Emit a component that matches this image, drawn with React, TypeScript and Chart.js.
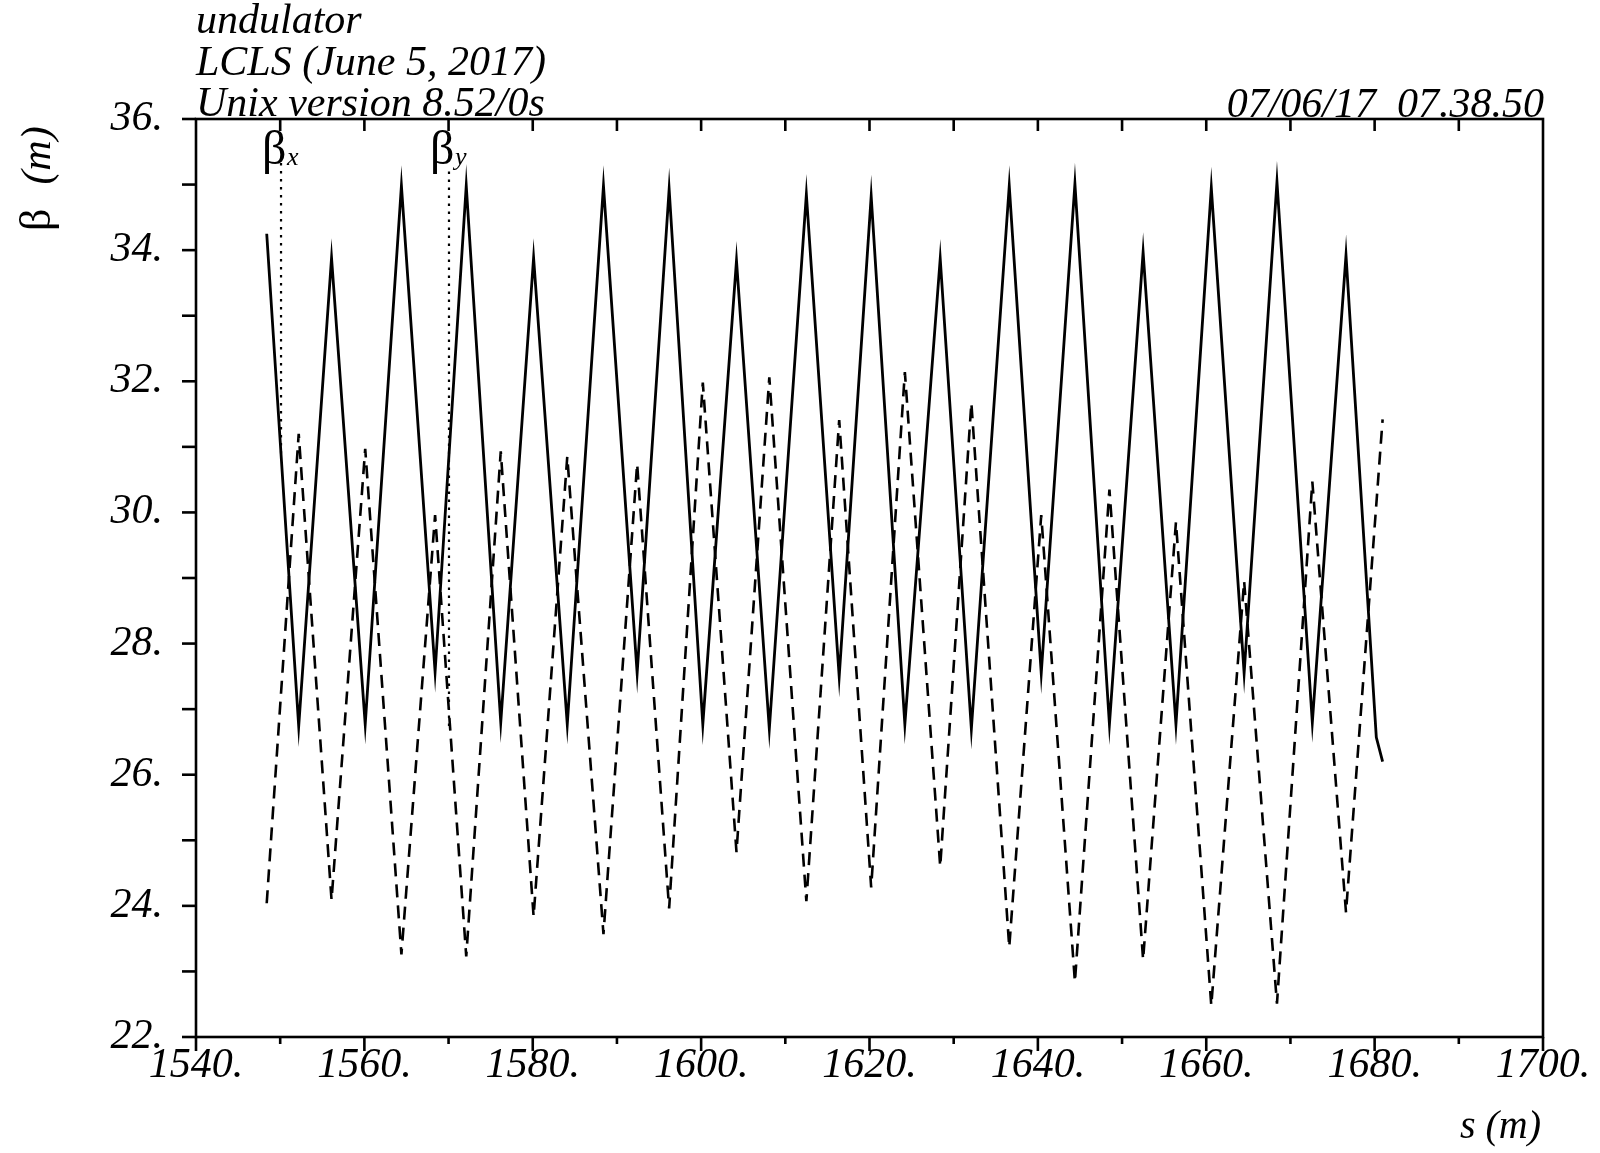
import React, { useEffect, useRef } from 'react';
import { Chart, registerables } from 'chart.js';

Chart.register(...registerables);

// ---- data ----
const sBetaX = [
  1548.4, 1552.2, 1556.1, 1560.1, 1564.4, 1568.4, 1572.1, 1576.2, 1580.1, 1584.1,
  1588.4, 1592.4, 1596.2, 1600.2, 1604.2, 1608.1, 1612.5, 1616.4, 1620.2, 1624.2,
  1628.4, 1632.1, 1636.6, 1640.4, 1644.4, 1648.5, 1652.5, 1656.4, 1660.6, 1664.5,
  1668.4, 1672.6, 1676.6, 1680.2, 1680.95,
];
const betaX = [
  34.25, 26.74, 33.88, 26.77, 34.98, 27.57, 34.98, 26.8, 33.88, 26.77,
  34.98, 27.55, 34.93, 26.77, 33.84, 26.7, 34.85, 27.5, 34.82, 26.77,
  33.87, 26.7, 34.98, 27.55, 35.01, 26.77, 33.97, 26.77, 34.95, 27.55,
  35.04, 26.8, 33.92, 26.57, 26.2,
];
const sBetaY = [
  1548.4, 1552.2, 1556.1, 1560.1, 1564.4, 1568.4, 1572.1, 1576.2, 1580.1, 1584.1,
  1588.4, 1592.4, 1596.2, 1600.2, 1604.2, 1608.1, 1612.5, 1616.4, 1620.2, 1624.2,
  1628.4, 1632.1, 1636.6, 1640.4, 1644.4, 1648.5, 1652.5, 1656.4, 1660.6, 1664.5,
  1668.4, 1672.6, 1676.6, 1680.95,
];
const betaY = [
  24.04, 31.2, 24.09, 30.97, 23.26, 29.96, 23.23, 30.93, 23.84, 30.85,
  23.57, 30.74, 23.96, 31.98, 24.82, 32.06, 24.07, 31.41, 24.28, 32.14,
  24.6, 31.67, 23.37, 29.96, 22.84, 30.35, 23.18, 29.85, 22.48, 28.95,
  22.51, 30.47, 23.9, 31.42,
];

// legend markers (label position s, dotted line from top value to curve value)
const markerSub = ['x', 'y'];
const markerS = [1550.1, 1570.05];
const markerTop = [35.33, 35.2];
const markerBottom = [30.85, 26.7];

const titleLines = ['undulator', 'LCLS (June 5, 2017)', 'Unix version 8.52/0s'];
const dateStamp = '07/06/17  07.38.50';
const xTitle = 's (m)';
const yTitleSymbol = 'β';
const yTitleUnit = '(m)';

const X_MIN = 1540;
const X_MAX = 1700;
const X_MAJOR = 20;
const X_MINOR = 10;
const Y_MIN = 22;
const Y_MAX = 36;
const Y_MAJOR = 2;
const Y_MINOR = 1;

const SERIF = '"Liberation Serif", "Times New Roman", serif';

const madDecor = {
  id: 'madDecor',
  beforeDatasetsDraw(chart: any) {
    chart.ctx.miterLimit = 40;
  },
  afterDraw(chart: any) {
    const { ctx, chartArea: a, scales } = chart;
    const x = scales.x;
    const y = scales.y;
    ctx.save();
    ctx.setLineDash([]);
    ctx.strokeStyle = '#000';
    ctx.fillStyle = '#000';
    ctx.lineWidth = 2.6;
    ctx.lineCap = 'butt';
    ctx.strokeRect(a.left, a.top, a.right - a.left, a.bottom - a.top);

    const seg = (x1: number, y1: number, x2: number, y2: number) => {
      ctx.beginPath();
      ctx.moveTo(x1, y1);
      ctx.lineTo(x2, y2);
      ctx.stroke();
    };
    const nx = Math.round((X_MAX - X_MIN) / X_MINOR);
    for (let i = 0; i <= nx; i++) {
      const v = X_MIN + i * X_MINOR;
      const px = x.getPixelForValue(v);
      const major = Math.round(v - X_MIN) % X_MAJOR === 0;
      seg(px, a.bottom, px, a.bottom + (major ? 14 : 7));
      if (i > 0 && i < nx) seg(px, a.top, px, a.top + 12);
    }
    const ny = Math.round((Y_MAX - Y_MIN) / Y_MINOR);
    for (let i = 0; i <= ny; i++) {
      const v = Y_MIN + i * Y_MINOR;
      const py = y.getPixelForValue(v);
      seg(a.left - 14, py, a.left, py);
    }

    // titles
    ctx.font = `italic 42px ${SERIF}`;
    ctx.textBaseline = 'alphabetic';
    ctx.textAlign = 'left';
    const baselines = [33, 75, 116];
    titleLines.forEach((t, i) => ctx.fillText(t, a.left, baselines[i]));
    ctx.textAlign = 'right';
    ctx.fillText(dateStamp, a.right + 1, 117);

    // x title
    ctx.font = `italic 40px ${SERIF}`;
    ctx.textAlign = 'right';
    ctx.fillText(xTitle, a.right - 2, 1138);

    // y title (rotated)
    ctx.save();
    ctx.translate(50, 231);
    ctx.rotate(-Math.PI / 2);
    ctx.textAlign = 'left';
    ctx.font = `44px ${SERIF}`;
    ctx.fillText(yTitleSymbol, 0, 0);
    const bw = ctx.measureText(yTitleSymbol).width;
    ctx.font = `italic 42px ${SERIF}`;
    ctx.fillText(yTitleUnit, bw + 24, 0);
    ctx.restore();

    // legend labels
    markerS.forEach((s, i) => {
      const px = x.getPixelForValue(s);
      ctx.textAlign = 'left';
      ctx.font = `48px ${SERIF}`;
      ctx.fillText('β', px - 19, 164);
      ctx.font = `italic 26px ${SERIF}`;
      ctx.fillText(markerSub[i], px + 6, 165);
    });
    ctx.restore();
  },
};

export default function App() {
  const ref = useRef<HTMLCanvasElement | null>(null);
  useEffect(() => {
    if (!ref.current) return;
    const tickFont = { family: SERIF, size: 42, style: 'italic' as const };
    const datasets: any[] = [
      {
        label: 'betx',
        data: sBetaX.map((s, i) => ({ x: s, y: betaX[i] })),
        borderColor: '#000',
        borderWidth: 2.8,
        borderJoinStyle: 'miter',
        pointRadius: 0,
        tension: 0,
        fill: false,
      },
      {
        label: 'bety',
        data: sBetaY.map((s, i) => ({ x: s, y: betaY[i] })),
        borderColor: '#000',
        borderWidth: 2.6,
        borderJoinStyle: 'bevel',
        borderDash: [13, 8],
        pointRadius: 0,
        tension: 0,
        fill: false,
      },
    ];
    markerS.forEach((s, i) => {
      datasets.push({
        label: 'marker' + i,
        data: [
          { x: s, y: markerTop[i] },
          { x: s, y: markerBottom[i] },
        ],
        borderColor: '#000',
        borderWidth: 2.2,
        borderDash: [2.5, 5.5],
        pointRadius: 0,
        fill: false,
      });
    });
    const chart = new Chart(ref.current, {
      type: 'line',
      data: { datasets },
      plugins: [madDecor],
      options: {
        responsive: false,
        animation: false,
        devicePixelRatio: 1,
        events: [],
        layout: { padding: { top: 119, right: 57, left: 0, bottom: 0 } },
        plugins: { legend: { display: false }, tooltip: { enabled: false }, title: { display: false } },
        scales: {
          x: {
            type: 'linear',
            min: X_MIN,
            max: X_MAX,
            grid: { display: false, drawTicks: false, tickLength: 0 },
            border: { display: false },
            ticks: {
              stepSize: X_MAJOR,
              autoSkip: false,
              maxRotation: 0,
              color: '#000',
              font: tickFont,
              padding: 4,
              callback: (v: any) => `${Math.round(Number(v))}.`,
            },
            afterFit: (s: any) => {
              s.height = 116;
            },
          },
          y: {
            type: 'linear',
            min: Y_MIN,
            max: Y_MAX,
            grid: { display: false, drawTicks: false, tickLength: 0 },
            border: { display: false },
            ticks: {
              stepSize: Y_MAJOR,
              autoSkip: false,
              color: '#000',
              font: tickFont,
              padding: 33,
              callback: (v: any) => `${Math.round(Number(v))}.`,
            },
            afterFit: (s: any) => {
              s.width = 196;
            },
          },
        },
      } as any,
    });
    return () => chart.destroy();
  }, []);
  return (
    <div style={{ position: 'fixed', left: 0, top: 0, width: 1600, height: 1153, background: '#fff' }}>
      <canvas ref={ref} width={1600} height={1153} style={{ display: 'block', width: 1600, height: 1153 }} />
    </div>
  );
}
